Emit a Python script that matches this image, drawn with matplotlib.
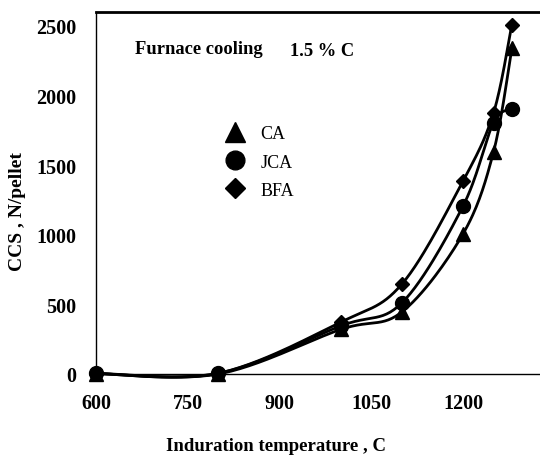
import numpy as np
import matplotlib
matplotlib.use("Agg")
import matplotlib.pyplot as plt

temps = [600, 800, 1000, 1100, 1200, 1250, 1280]
ca = [3, 0, 320, 445, 1005, 1595, 2340]
jca = [5, 5, 345, 510, 1205, 1805, 1900]
bfa = [3, 5, 372, 645, 1385, 1875, 2510]
series_names = ["CA", "JCA", "BFA"]
series_markers = ["^", "o", "D"]
xticks = [600, 750, 900, 1050, 1200]
yticks = [0, 500, 1000, 1500, 2000, 2500]

plt.rcParams['font.family'] = ['Liberation Serif', 'DejaVu Serif']


def smooth(x, y, n=30):
    x = np.asarray(x, float)
    y = np.asarray(y, float)
    px = np.concatenate([[x[0]], x, [x[-1]]])
    py = np.concatenate([[y[0]], y, [y[-1]]])
    xs, ys = [], []
    for i in range(1, len(px) - 2):
        t = np.linspace(0, 1, n)
        p0x, p1x, p2x, p3x = px[i - 1], px[i], px[i + 1], px[i + 2]
        p0y, p1y, p2y, p3y = py[i - 1], py[i], py[i + 1], py[i + 2]
        k = 1 / 6
        c1x, c1y = p1x + (p2x - p0x) * k, p1y + (p2y - p0y) * k
        c2x, c2y = p2x - (p3x - p1x) * k, p2y - (p3y - p1y) * k
        bx = (1 - t) ** 3 * p1x + 3 * (1 - t) ** 2 * t * c1x + 3 * (1 - t) * t ** 2 * c2x + t ** 3 * p2x
        by = (1 - t) ** 3 * p1y + 3 * (1 - t) ** 2 * t * c1y + 3 * (1 - t) * t ** 2 * c2y + t ** 3 * p2y
        xs.append(bx)
        ys.append(by)
    return np.concatenate(xs), np.concatenate(ys)


W, H = 540, 460
fig = plt.figure(figsize=(5.4, 4.6), dpi=100)
ax = fig.add_axes([96 / W, 1 - 375 / H, 1 - 96 / W, (375 - 13) / H])

handles = []
for name, mk, vals in zip(series_names, series_markers, [ca, jca, bfa]):
    sx, sy = smooth(temps, vals)
    ax.plot(sx, sy, color='black', lw=2.0, solid_capstyle='round', clip_on=False)
    ms = {'^': 10, 'o': 10, 'D': 7.5}[mk]
    ax.plot(temps, vals, linestyle='none', marker=mk, color='black', ms=ms, clip_on=False)
    h, = ax.plot([], [], linestyle='none', marker=mk, color='black',
                 ms={'^': 14, 'o': 13.5, 'D': 10.5}[mk])
    handles.append(h)

ax.set_xlim(600, 1326)
ax.set_ylim(0, 2600)
ax.set_xticks(xticks)
ax.set_yticks(yticks)
ax.tick_params(length=0)
ax.tick_params(axis='x', pad=14)
ax.tick_params(axis='y', pad=14)
for lab in ax.get_xticklabels() + ax.get_yticklabels():
    lab.set_fontweight('bold')
    lab.set_fontsize(14.5)
ax.spines['right'].set_visible(False)
ax.spines['top'].set_linewidth(2)
ax.spines['left'].set_linewidth(1)
ax.spines['bottom'].set_linewidth(1)

fig.text(276 / W, 1 - 447 / H, 'Induration temperature , C', fontsize=13.5, fontweight='bold',
         ha='center', va='center')
fig.text(18 / W, 1 - 212 / H, 'CCS , N/pellet', fontsize=14, fontweight='bold',
         ha='center', va='center', rotation=90)

fig.text(135 / W, 1 - 50 / H, 'Furnace cooling', fontsize=13.3, fontweight='bold', ha='left', va='center')
fig.text(290 / W, 1 - 52 / H, '1.5 % C', fontsize=13.3, fontweight='bold', ha='left', va='center')

leg = ax.legend(handles, series_names, loc='center left',
                bbox_to_anchor=(226 / W, 1 - 163 / H), bbox_transform=fig.transFigure,
                frameon=False, fontsize=13, handlelength=1.0, handletextpad=0.9,
                labelspacing=0.62, borderpad=0, borderaxespad=0)

fig.savefig('out.png', dpi=100)
